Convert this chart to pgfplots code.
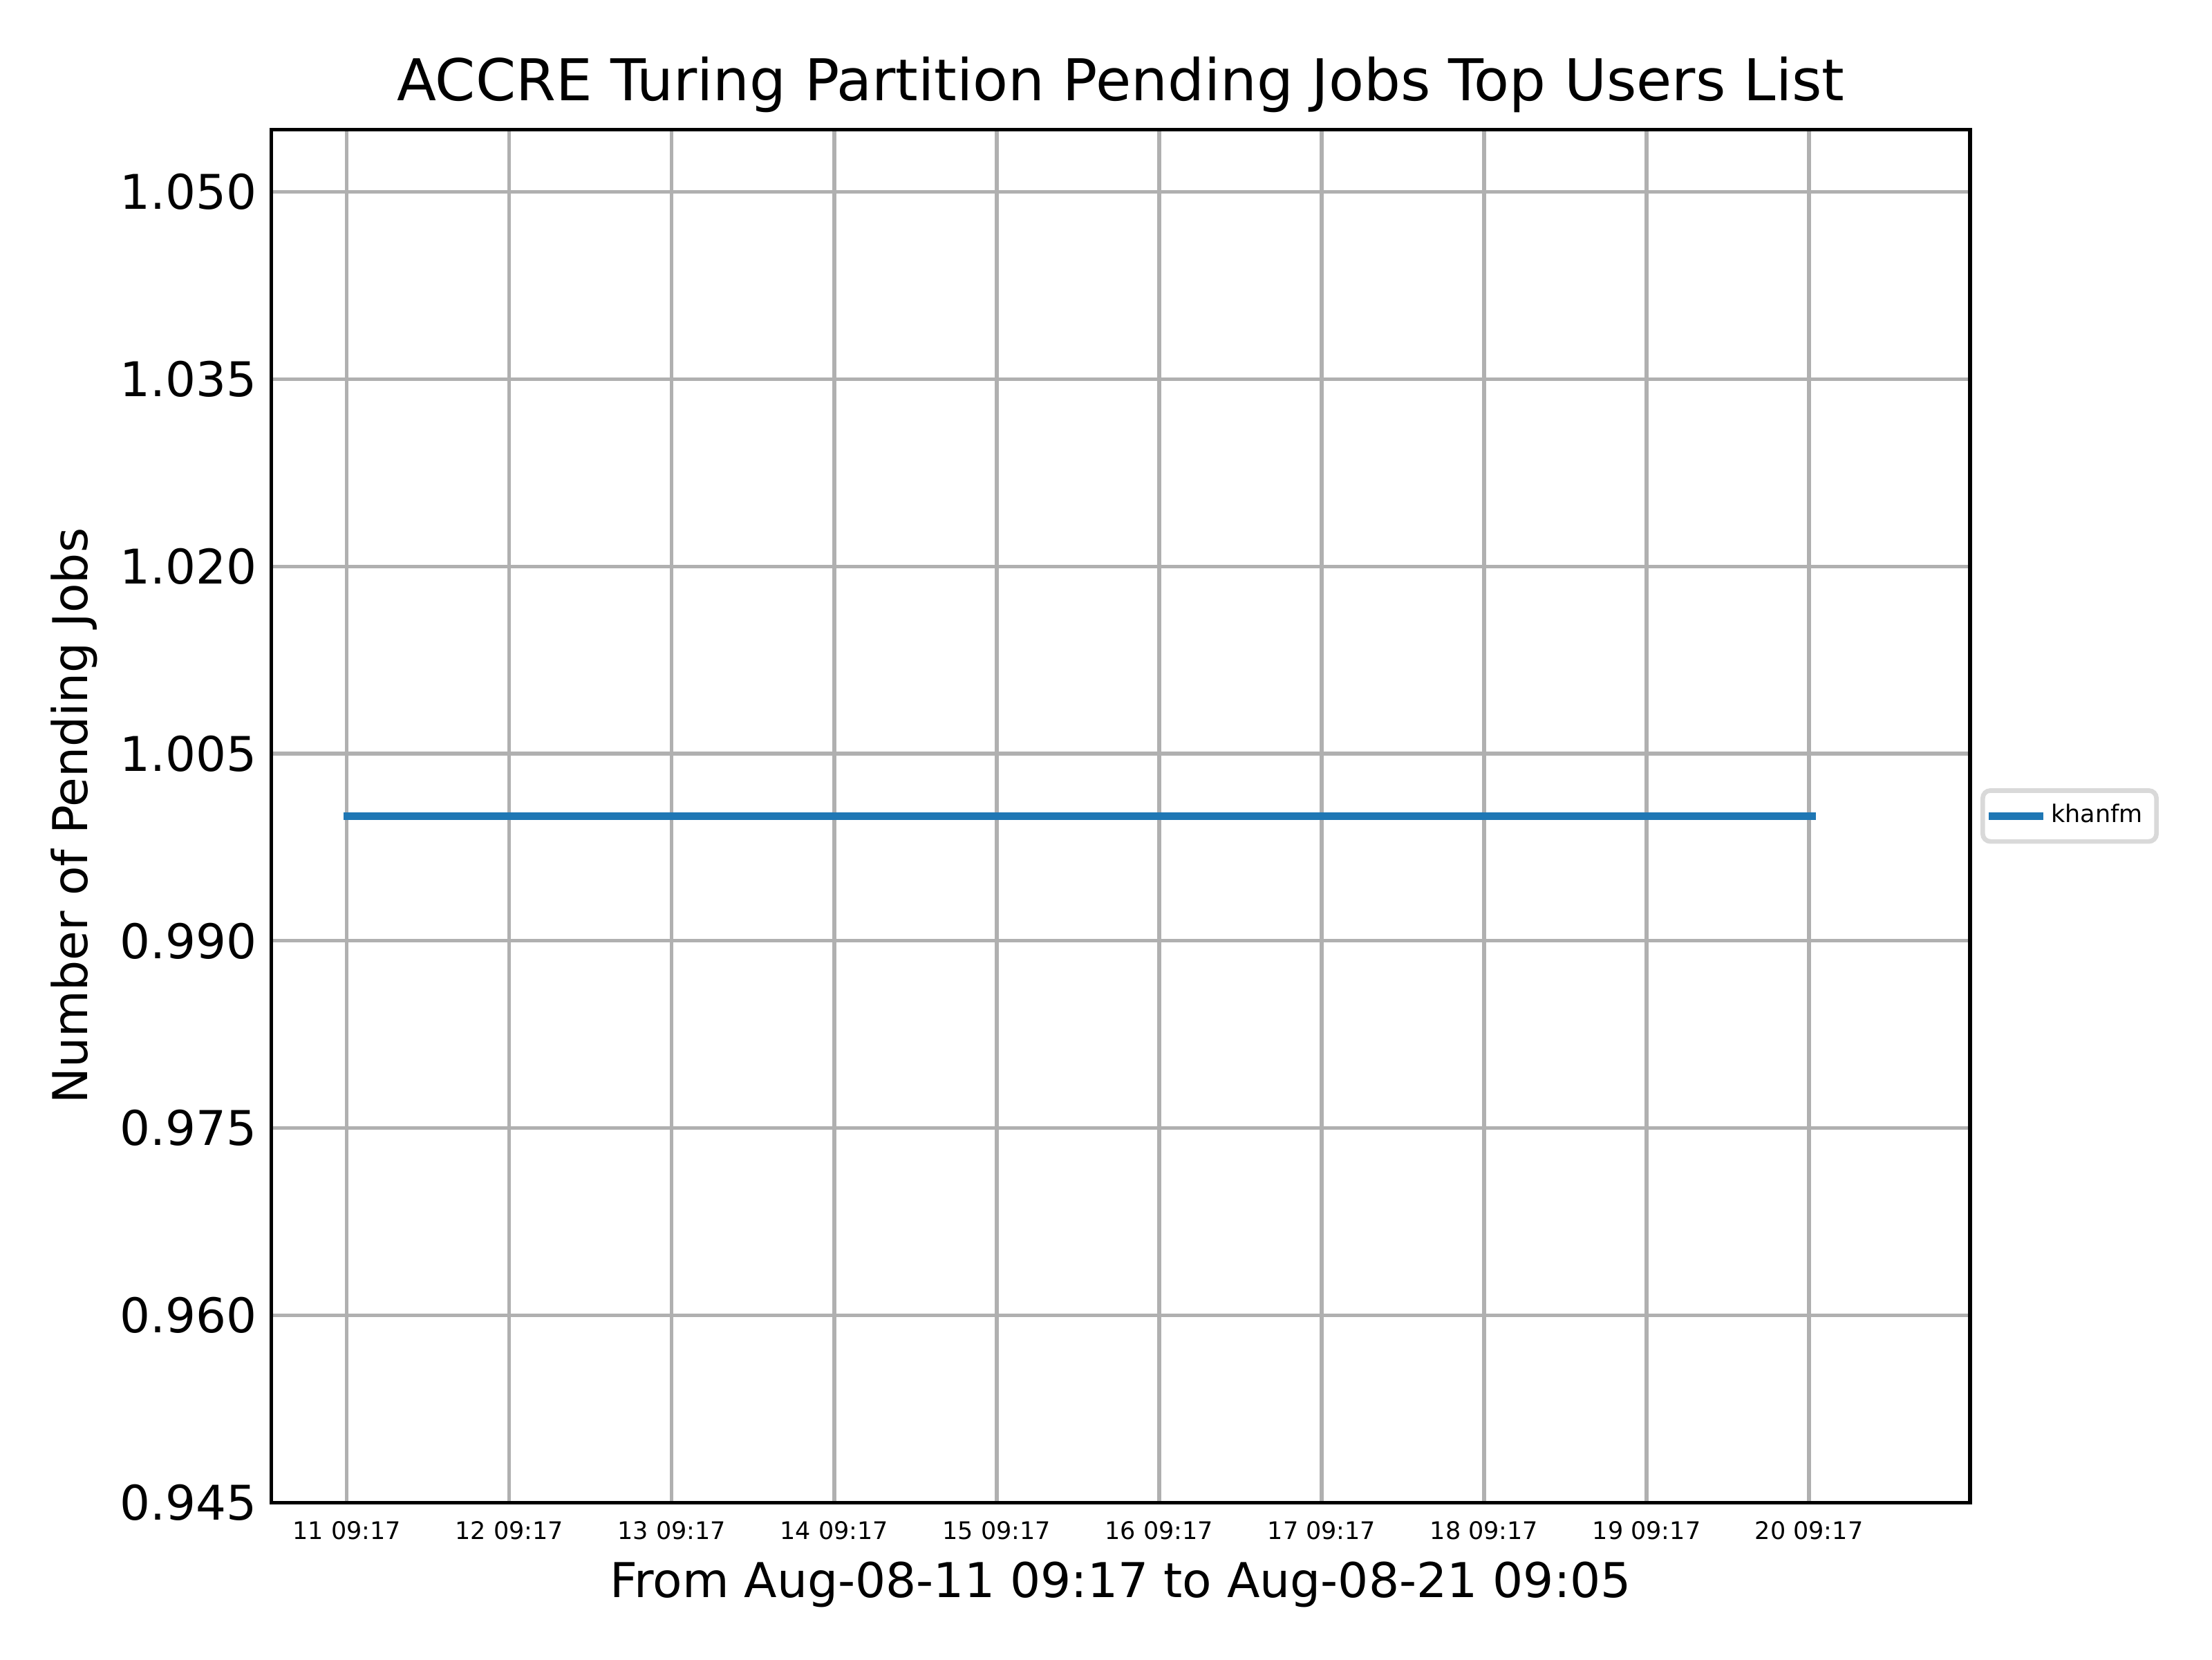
\documentclass[border=0pt]{standalone}
\usepackage{pgfplots}
\pgfplotsset{compat=1.18}
\usepackage{fontspec}
\setmainfont{DejaVu Sans}
\definecolor{mplblue}{HTML}{1F77B4}
\definecolor{gridgray}{HTML}{B0B0B0}
\definecolor{leggray}{HTML}{D9D9D9}
\begin{document}
\begin{tikzpicture}
\useasboundingbox (-70.7bp,-40.9bp) rectangle (505.3bp,391.2bp);
\begin{axis}[
  at={(0,0)}, anchor=south west,
  scale only axis, width=442.3bp, height=357.5bp,
  xmin=-0.464, xmax=9.991, ymin=0.945, ymax=1.055,
  axis line style={line width=0.94bp, black},
  grid=major, major grid style={line width=0.94bp, gridgray},
  major tick length=0pt,
  xtick={0,1,2,3,4,5,6,7,8,9},
  xticklabels={11 09:17,12 09:17,13 09:17,14 09:17,15 09:17,16 09:17,17 09:17,18 09:17,19 09:17,20 09:17},
  ytick={0.945,0.960,0.975,0.990,1.005,1.020,1.035,1.050},
  scaled y ticks=false,
  /pgf/number format/assume math mode=true,
  yticklabel style={/pgf/number format/fixed, /pgf/number format/fixed zerofill, /pgf/number format/precision=3,
    font=\fontsize{12.45bp}{15bp}\selectfont, anchor=east, inner sep=0pt, xshift=-3.7bp},
  xticklabel style={font=\fontsize{6.3bp}{7.5bp}\selectfont, anchor=center, inner sep=0pt, yshift=-7.2bp},
  title={ACCRE Turing Partition Pending Jobs Top Users List},
  title style={at={(axis description cs:0.5,1)}, anchor=center, yshift=5.7bp, font=\fontsize{15bp}{18bp}\selectfont},
  xlabel={From Aug-08-11 09:17 to Aug-08-21 09:05},
  xlabel style={at={(axis description cs:0.5,-0.0596)}, anchor=center, inner sep=0pt, font=\fontsize{12.5bp}{15bp}\selectfont},
  ylabel={Number of Pending Jobs},
  ylabel style={at={(axis description cs:-0.116,0.5)}, anchor=center, inner sep=0pt, rotate=0, font=\fontsize{12.5bp}{15bp}\selectfont},
  legend style={at={(axis description cs:1.0061,0.5)}, anchor=west, draw=leggray, line width=1.2bp,
    rounded corners=2bp, fill=white, inner xsep=1.6bp, inner ysep=1.5bp,
    font=\fontsize{6.3bp}{7.5bp}\selectfont,
    /tikz/every even column/.append style={column sep=4.2bp}},
  legend image code/.code={\draw[#1, line cap=rect] (0.95bp,0bp) -- (13.25bp,0bp);},
]
\addplot[mplblue, line width=1.9bp, line cap=rect] coordinates {
  (0,1) (1,1) (2,1) (3,1) (4,1) (5,1) (6,1) (7,1) (8,1) (9.02,1)
};
\addlegendentry{khanfm}
\end{axis}
\end{tikzpicture}
\end{document}
